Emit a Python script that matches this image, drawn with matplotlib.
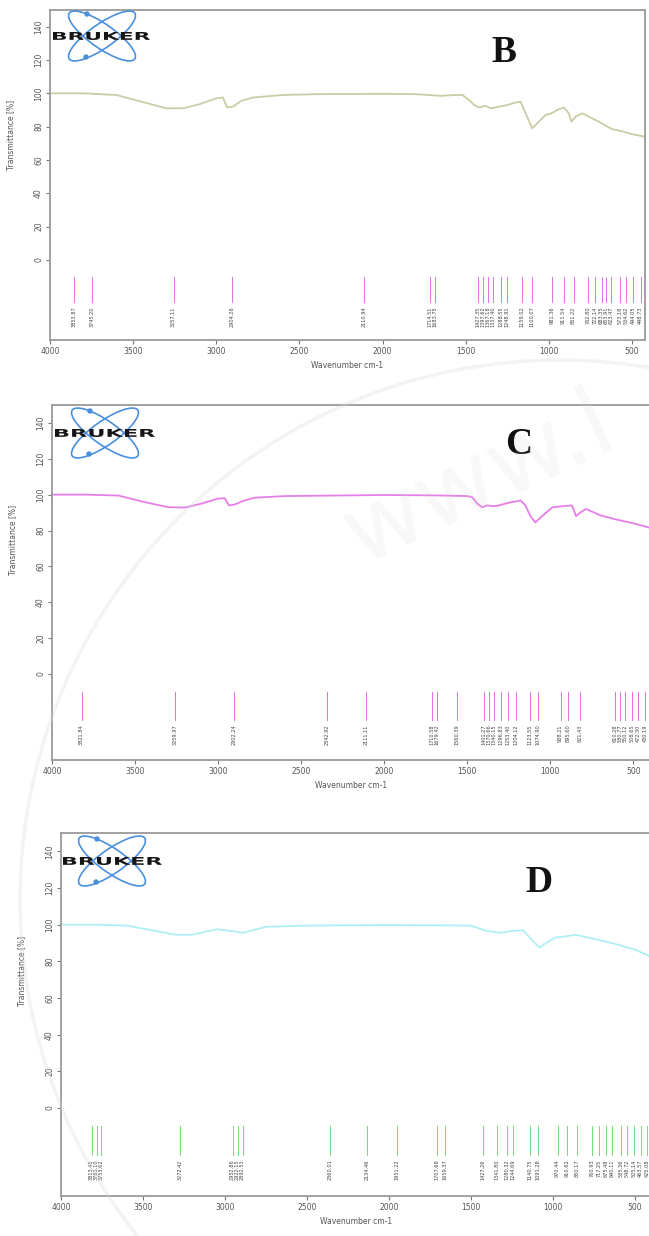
import matplotlib.pyplot as plt
from matplotlib.patches import Ellipse, Circle, PathPatch
from matplotlib.textpath import TextPath
from matplotlib.font_manager import FontProperties
from matplotlib.transforms import Affine2D

W, H = 649, 1236

# spectrum B: wavenumber (cm-1) vs transmittance (%)
wn_b = [4000, 3800, 3600, 3450, 3300, 3200, 3100, 3000, 2960, 2935, 2900, 2850,
        2780, 2600, 2400, 2000, 1800, 1650, 1560, 1520, 1480, 1450, 1420, 1380,
        1350, 1300, 1250, 1200, 1170, 1140, 1100, 1060, 1020, 985, 950, 910, 880,
        865, 840, 800, 760, 700, 620, 550, 500, 422]
tr_b = [100, 100, 99, 95, 91, 91, 93.5, 97, 97.5, 91.5, 92, 95.5,
        97.5, 99, 99.5, 99.7, 99.5, 98.5, 99, 99, 96, 93, 91.5, 92.5,
        91, 92, 93, 94.5, 95, 88, 79, 83, 87, 88, 90, 91.5, 88,
        83, 86, 88, 86, 83, 78.5, 77, 75.5, 74]

# spectrum C
wn_c = [4000, 3800, 3600, 3450, 3300, 3200, 3100, 3000, 2960, 2935, 2900, 2850,
        2780, 2600, 2000, 1700, 1500, 1470, 1440, 1410, 1380, 1340, 1310, 1250,
        1180, 1150, 1120, 1090, 1050, 1000, 985, 930, 870, 845, 820, 785, 700,
        620, 500, 400]
tr_c = [100, 100, 99.5, 96, 93, 92.8, 95, 97.8, 98, 94, 94.5, 96.5,
        98.3, 99.2, 99.8, 99.6, 99.2, 98.5, 95, 93, 94, 93.5, 94, 95.5,
        96.7, 94, 88, 84.5, 88, 92, 93, 93.5, 94, 88, 90, 92, 88.5,
        86.5, 84, 81.5]

# spectrum D
wn_d = [4000, 3800, 3600, 3450, 3300, 3200, 3100, 3050, 2960, 2890, 2850, 2750,
        2500, 2000, 1500, 1450, 1400, 1320, 1250, 1180, 1130, 1080, 1040, 985,
        930, 860, 760, 640, 500, 400]
tr_d = [100, 100, 99.5, 97, 94.5, 94.5, 96.5, 97.5, 96.5, 95.6, 96.5, 98.8,
        99.5, 99.8, 99.5, 98, 96.5, 95.6, 96.5, 97, 92, 87.5, 90, 93,
        93.5, 94.5, 92.5, 90, 86.5, 82.5]

# picked peak positions (cm-1)
peaks_b = [3853.87, 3745.20, 3257.11, 2904.26, 2110.94, 1714.51, 1683.75,
           1427.35, 1397.62, 1367.18, 1337.40, 1288.55, 1248.91, 1159.02,
           1100.07, 981.36, 911.54, 851.22, 762.80, 722.14, 683.35, 653.91,
           623.47, 573.18, 534.62, 494.05, 448.73]
peaks_c = [3821.84, 3259.97, 2902.24, 2342.92, 2111.11, 1710.58, 1679.42,
           1560.39, 1401.27, 1370.66, 1340.15, 1296.83, 1253.40, 1204.12,
           1123.55, 1074.90, 938.21, 895.60, 821.43, 610.28, 580.77, 550.12,
           508.65, 472.30, 430.19]
peaks_d = [3813.45, 3783.10, 3753.62, 3272.42, 2952.86, 2922.15, 2892.53,
           2360.01, 2134.46, 1951.22, 1707.68, 1659.37, 1427.26, 1341.80,
           1280.32, 1244.69, 1140.75, 1091.28, 970.44, 910.62, 850.17, 760.93,
           717.25, 675.48, 640.11, 585.36, 548.72, 505.14, 463.57, 425.08]

panels = [
    # name, wn, tr, peaks, line colour, peak colour, axes box (px), right limit,
    # logo centre, lettering span, letter position
    ("B", wn_b, tr_b, peaks_b, "#cbcca6", "#e070e0", (50, 10, 645, 340), 422,
     (102, 36), (53, 150), (504, 52)),
    ("C", wn_c, tr_c, peaks_c, "#e77ee7", "#e070e0", (52, 405, 650, 760), 400,
     (105, 433), (55, 155), (519, 445)),
    ("D", wn_d, tr_d, peaks_d, "#aeeff3", "#77dd77", (61, 833, 651, 1196), 400,
     (112, 861), (63, 162), (539, 882)),
]


def px_rect(x0, y0, x1, y1):
    return [x0 / W, 1 - y1 / H, (x1 - x0) / W, (y1 - y0) / H]


def spread(vals, gap):
    out = []
    for v in sorted(vals, reverse=True):
        out.append(v if not out else min(v, out[-1] - gap))
    return out


fig = plt.figure(figsize=(W / 100, H / 100), dpi=100)
fig.patch.set_facecolor("white")
logo_font = FontProperties(family="DejaVu Sans", weight="bold")

for (name, wn, tr, peaks, lc, pc, box, xr, (cx, cy), (lx0, lx1),
     (tx, ty)) in panels:
    ax = fig.add_axes(px_rect(*box))
    ax.plot(wn, tr, color=lc, lw=1.3)
    ax.set_xlim(4000, xr)
    ax.set_ylim(-48, 150)
    ax.set_xticks([4000, 3500, 3000, 2500, 2000, 1500, 1000, 500])
    ax.set_yticks(range(0, 141, 20))
    ax.tick_params(labelsize=5.5, colors="#777777", labelcolor="#555555",
                   length=3, width=0.8, pad=2)
    for lab in ax.get_yticklabels():
        lab.set_rotation(90)
        lab.set_va("center")
    for s in ax.spines.values():
        s.set_color("#9a9a9a")
        s.set_linewidth(1.3)
    ax.set_xlabel("Wavenumber cm-1", fontsize=5.5, color="#555555", labelpad=4)
    ax.set_ylabel("Transmittance [%]", fontsize=5.5, color="#555555")
    ax.yaxis.set_label_coords(-35 / (box[2] - box[0]), 0.62)

    # peak picks with their labels
    for p, q in zip(sorted(peaks, reverse=True), spread(peaks, 28)):
        ax.plot([p, p, q], [-10, -22, -25.5], color=pc, lw=0.7)
        ax.text(q, -28, f"{p:.2f}", rotation=90, ha="center", va="top",
                fontsize=3.6, color="#444444")

    fig.text(tx / W, 1 - ty / H, name, ha="center", va="center",
             fontsize=27, fontweight="bold", family="Liberation Serif",
             color="#111111")

    # instrument logo
    lax = fig.add_axes(px_rect(lx0, cy - 28, lx1, cy + 28))
    lax.set_xlim(lx0, lx1)
    lax.set_ylim(cy + 28, cy - 28)
    lax.axis("off")
    for ang in (35, -35):
        lax.add_patch(Ellipse((cx, cy), 80, 24, angle=ang, fill=False,
                              ec="#4a8fdc", lw=1.2, clip_on=False))
    for dx, dy in ((-15, -22), (-16, 21)):
        lax.add_patch(Circle((cx + dx, cy + dy), 2.0, color="#4a8fdc",
                             clip_on=False))
    tp = TextPath((0, 0), "BRUKER", size=10, prop=logo_font)
    bb = tp.get_extents()
    tf = (Affine2D().translate(-bb.x0, -bb.y0)
          .scale((lx1 - lx0) / bb.width, -8 / bb.height)
          .translate(lx0, cy + 4))
    lax.add_patch(PathPatch(tf.transform_path(tp), color="#151515", lw=0,
                            clip_on=False))

# faint watermark over the page
wax = fig.add_axes([0, 0, 1, 1], zorder=10)
wax.set_xlim(0, W)
wax.set_ylim(H, 0)
wax.axis("off")
wax.add_patch(Circle((560, 900), 540, fill=False, ec="#d8d8d8", lw=2.5,
                     alpha=0.3))
wax.text(480, 480, "www.l", fontsize=70, color="#d0d0d0", alpha=0.15,
         rotation=25, ha="center", va="center", family="DejaVu Sans")

fig.savefig("out.png", dpi=100)
